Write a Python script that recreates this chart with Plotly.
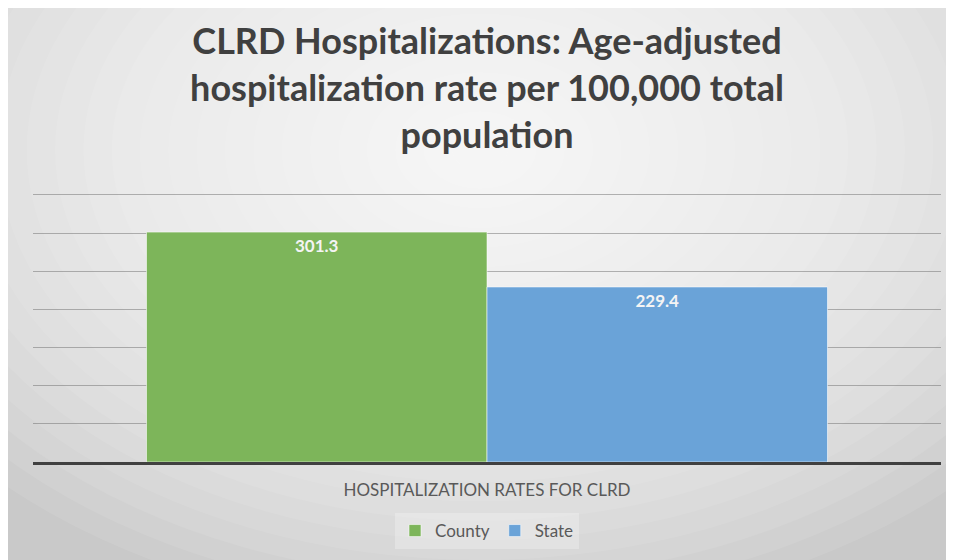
import plotly.graph_objects as go

categories = ["HOSPITALIZATION RATES FOR CLRD"]
series_names = ["County", "State"]
county_values = [301.3]
state_values = [229.4]
series_colors = ["#7DB55A", "#6AA3D8"]
title_text = "CLRD Hospitalizations: Age-adjusted<br>hospitalization rate per 100,000 total<br>population"

# page has an 8px body margin; figure sized to fill the rest of the 954x560 window
OFF = 8
W, H = 954 - OFF, 560 - OFF
ML, MR, MT, MB = 33 - OFF, 13, 181 - OFF, 97
PW, PH = W - ML - MR, H - MT - MB
Y_TOP = 350 * PH / 268  # keeps the 350 gridline just inside the plot top

def px_x(p):  # screen px -> paper
    return (p - OFF - ML) / PW

def px_y(p):
    return (H - MB - (p - OFF)) / PH

fig = go.Figure()
for name, vals, col in zip(series_names, [county_values, state_values], series_colors):
    fig.add_trace(go.Bar(
        name=name, x=categories, y=vals,
        marker=dict(color=col, line=dict(color="rgba(255,255,255,0.55)", width=1)),
        text=[f"{v:.1f}" for v in vals],
        textposition="inside", insidetextanchor="end",
        textfont=dict(family="Lato", size=17, color="#F4F4F4", weight="bold"),
        hoverinfo="skip",
    ))

shapes = [dict(type="rect", xref="paper", yref="paper", layer="below",
               x0=px_x(0), x1=px_x(960), y0=px_y(570), y1=px_y(0),
               fillcolor="#C9C9C9", line=dict(width=0))]
n = 24
cx, cy = 480, 150
for i in range(n):
    f = 1 - i / n
    rx, ry = 680 * f, 470 * f
    shapes.append(dict(type="circle", xref="paper", yref="paper", layer="below",
                       x0=px_x(cx - rx), x1=px_x(cx + rx),
                       y0=px_y(cy + ry), y1=px_y(cy - ry),
                       fillcolor="rgba(255,255,255,0.085)", line=dict(width=0)))

fig.update_layout(
    width=W, height=H,
    margin=dict(l=ML, r=MR, t=MT, b=MB),
    paper_bgcolor="white", plot_bgcolor="rgba(0,0,0,0)",
    barmode="group", bargap=0.25, bargroupgap=0,
    shapes=shapes,
    title=dict(text=title_text, x=0.5, xref="paper", xanchor="center",
               y=1 - 46 / H, yref="container", yanchor="top",
               font=dict(family="Lato", size=36, color="#404040", weight="bold")),
    legend=dict(orientation="h", x=0.5, xanchor="center", y=px_y(531), yanchor="middle",
                bgcolor="rgba(255,255,255,0.25)", itemwidth=30,
                font=dict(family="Lato", size=17, color="#595959"),
                itemclick=False, itemdoubleclick=False),
    xaxis=dict(showline=True, linecolor="#404040", linewidth=2.5,
               ticks="outside", ticklen=11, tickcolor="rgba(0,0,0,0)",
               tickfont=dict(family="Lato", size=17, color="#595959"),
               showgrid=False, fixedrange=True),
    yaxis=dict(range=[0, Y_TOP], dtick=50, showticklabels=False,
               showgrid=True, gridcolor="rgba(110,110,110,0.5)", gridwidth=1.3,
               zeroline=False, fixedrange=True),
    showlegend=True,
)

fig.write_html("out.html")
